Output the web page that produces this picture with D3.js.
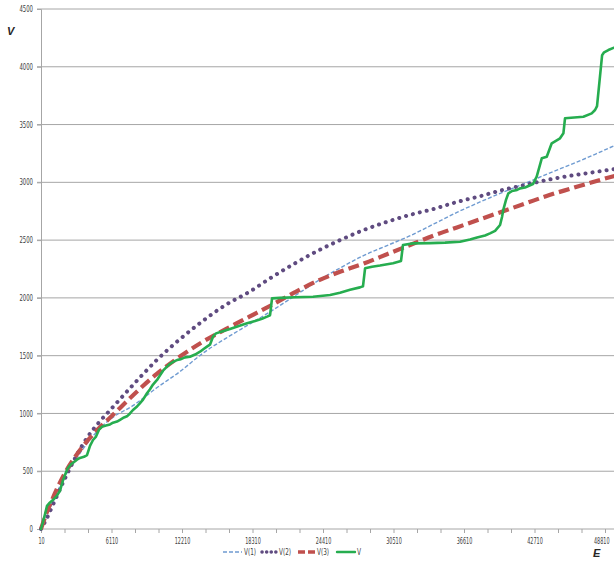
<!DOCTYPE html>
<html><head><meta charset="utf-8">
<script src="https://cdn.jsdelivr.net/npm/d3@7/dist/d3.min.js"></script>
<style>
html,body{margin:0;padding:0;background:#fff;}
svg{display:block;}
.tick text{font-family:"Liberation Sans Narrow","DejaVu Sans Condensed","Liberation Sans",sans-serif;}
</style></head>
<body>
<svg id="chart" width="614" height="565"></svg>
<script>
// ---- data ----
const xTickLabels = [10, 6110, 12210, 18310, 24410, 30510, 36610, 42710, 48810];
const yTickLabels = [0, 500, 1000, 1500, 2000, 2500, 3000, 3500, 4000, 4500];

const eGrid = [10, 500, 1000, 2000, 3000, 4000, 5000, 6000, 8000, 10000, 12000, 14000, 16000, 18000, 20000,
  22000, 24000, 26000, 28000, 30000, 32000, 34000, 36000, 38000, 40000, 42000, 44000, 46000, 48000, 50000];
const v1 = [0, 110, 230, 440, 600, 740, 860, 950, 1070, 1220, 1360, 1520, 1650, 1770, 1890,
  2020, 2150, 2265, 2370, 2455, 2540, 2640, 2740, 2830, 2915, 2995, 3080, 3160, 3245, 3335];
const v2 = [0, 90, 200, 420, 620, 790, 920, 1030, 1250, 1460, 1640, 1800, 1940, 2050, 2180,
  2300, 2410, 2505, 2590, 2660, 2720, 2770, 2830, 2880, 2935, 2980, 3025, 3060, 3090, 3120];
const v3 = [0, 140, 260, 470, 630, 760, 870, 965, 1160, 1340, 1490, 1620, 1730, 1835, 1940,
  2050, 2150, 2230, 2300, 2380, 2460, 2540, 2610, 2680, 2750, 2820, 2890, 2950, 3010, 3065];

const eV = [10, 180, 360, 530, 790, 1140, 1390, 1650, 1910, 2170, 2350, 2610, 2870, 3120, 3380, 3730, 3990,
  4250, 4510, 4770, 5030, 5290, 5630, 5980, 6240, 6590, 6850, 7190, 7450, 7710, 7970, 8320, 8580, 8840,
  9180, 9440, 9700, 10050, 10310, 10570, 10910, 11170, 11520, 11780, 12120, 12470, 12900, 13340, 13770,
  14110, 14370, 14630, 14890, 15150, 15670, 16360, 17060, 17840, 18530, 19130, 19570, 19830, 20000,
  20690, 21990, 23550, 25020, 25880, 26750, 27610, 27870, 28050, 28650, 29340, 30470, 31160, 31330,
  32200, 33670, 34970, 36270, 37130, 37740, 38430, 38860, 39300, 39730, 39900, 40010, 40250, 40450,
  40770, 41200, 41460, 41890, 42580, 42900, 43340, 43770, 44200, 44920, 45210, 45350, 46940, 47660,
  47950, 48120, 48560, 48730, 49100, 49590];
const vV = [0, 60, 130, 200, 230, 260, 290, 330, 420, 490, 530, 560, 580, 600, 615, 625, 640,
  720, 770, 800, 860, 885, 895, 905, 920, 930, 945, 965, 975, 1000, 1030, 1060, 1090, 1120,
  1175, 1210, 1250, 1290, 1330, 1370, 1405, 1430, 1450, 1462, 1470, 1485, 1491, 1510, 1534,
  1560, 1578, 1595, 1664, 1693, 1710, 1730, 1755, 1780, 1800, 1820, 1838, 1850, 1996,
  2000, 2005, 2010, 2025, 2045, 2070, 2091, 2100, 2256, 2270, 2280, 2300, 2320, 2458,
  2472, 2474, 2478, 2486, 2505, 2523, 2540, 2558, 2580, 2631, 2700, 2761, 2850, 2905,
  2925, 2934, 2948, 2955, 2985, 3049, 3208, 3222, 3338, 3381, 3424, 3554, 3568, 3597,
  3626, 3660, 4100, 4125, 4145, 4165];

const seriesNames = ["V(1)", "V(2)", "V(3)", "V"];

// ---- chart ----
const svg = d3.select("#chart");
const x = d3.scaleLinear().domain([10, 48810]).range([41, 605]);
const y = d3.scaleLinear().domain([0, 4500]).range([529, 9]);
const right = 614;

// gridlines
svg.append("g").selectAll("line").data(yTickLabels.filter(d => d > 0)).join("line")
  .attr("x1", 37).attr("x2", right).attr("y1", d => y(d)).attr("y2", d => y(d))
  .attr("stroke", "#a6a6a6").attr("stroke-width", 1);

// y axis
const yAxis = svg.append("g").attr("transform", "translate(41,0)")
  .call(d3.axisLeft(y).tickValues(yTickLabels).tickSize(4).tickPadding(4).tickFormat(d3.format("d")));
yAxis.select(".domain").attr("stroke", "#a6a6a6");
yAxis.selectAll(".tick line").attr("stroke", "#a6a6a6");
yAxis.selectAll(".tick text").attr("font-size", 8).attr("fill", "#404040")
  .attr("textLength", d => String(d).length * 3.4).attr("lengthAdjust", "spacingAndGlyphs");

// x axis
const minorTicks = d3.range(0, 25).map(i => 10 + i * 6100 / 3);
const xAxis = svg.append("g").attr("transform", "translate(0,529)")
  .call(d3.axisBottom(x).tickValues(minorTicks).tickSize(4).tickPadding(5)
    .tickFormat(d => { const r = xTickLabels.find(t => Math.abs(t - d) < 1); return r === undefined ? "" : r; }));
xAxis.select(".domain").attr("stroke", "#a6a6a6").attr("d", `M41,0H${right}`);
xAxis.selectAll(".tick line").attr("stroke", "#a6a6a6");
xAxis.selectAll(".tick text").attr("font-size", 8).attr("fill", "#404040")
  .each(function() {
    const sel = d3.select(this);
    const t = sel.text();
    if (t) {
      sel.attr("textLength", t.length * 3.1).attr("lengthAdjust", "spacingAndGlyphs");
      if (t === String(xTickLabels[xTickLabels.length - 1])) sel.attr("text-anchor", "end").attr("x", 4);
    }
  });

// lines
const smooth = (vals) => d3.line().x((d, i) => x(eGrid[i])).y(d => y(d)).curve(d3.curveMonotoneX)(vals);

const styles = [
  {stroke: "#6f9bd1", width: 1.4, dash: "4 2", cap: "butt"},
  {stroke: "#5f4b80", width: 4, dash: "0.1 7", cap: "round"},
  {stroke: "#c0504d", width: 4.2, dash: "11 5", cap: "butt"},
  {stroke: "#26ad4f", width: 2.6, dash: null, cap: "round"}
];

[v1, v2, v3].forEach((vals, i) => {
  svg.append("path").attr("d", smooth(vals)).attr("fill", "none")
    .attr("stroke", styles[i].stroke).attr("stroke-width", styles[i].width)
    .attr("stroke-dasharray", styles[i].dash).attr("stroke-linecap", styles[i].cap);
});
svg.append("path")
  .attr("d", d3.line().x((d, i) => x(eV[i])).y(d => y(d))(vV))
  .attr("fill", "none").attr("stroke", styles[3].stroke).attr("stroke-width", styles[3].width)
  .attr("stroke-linejoin", "round").attr("stroke-linecap", "round");

// axis titles
svg.append("text").attr("x", 7).attr("y", 35).text("V")
  .attr("font-family", "Liberation Sans, sans-serif").attr("font-size", 11)
  .attr("font-weight", "bold").attr("font-style", "italic").attr("fill", "#262626");
svg.append("text").attr("x", 593).attr("y", 557).text("E")
  .attr("font-family", "Liberation Sans, sans-serif").attr("font-size", 11)
  .attr("font-weight", "bold").attr("font-style", "italic").attr("fill", "#262626");

// legend
const legendX = [223, 262, 298, 337];
const legendW = [19, 15, 17, 18];
const legendTW = [12, 12, 12, 4];
const lg = svg.append("g");
seriesNames.forEach((name, i) => {
  const s = styles[i];
  lg.append("line").attr("x1", legendX[i]).attr("x2", legendX[i] + legendW[i])
    .attr("y1", 552).attr("y2", 552)
    .attr("stroke", s.stroke).attr("stroke-width", i === 0 ? 1.6 : (i === 3 ? 2.4 : 3.5))
    .attr("stroke-dasharray", i === 1 ? "0.1 4.5" : (i === 2 ? "7 3" : s.dash))
    .attr("stroke-linecap", s.cap);
  lg.append("text").attr("x", legendX[i] + legendW[i] + 2).attr("y", 555).text(name)
    .attr("font-family", "Liberation Sans Narrow, DejaVu Sans Condensed, sans-serif")
    .attr("font-size", 8).attr("fill", "#404040")
    .attr("textLength", legendTW[i]).attr("lengthAdjust", "spacingAndGlyphs");
});
</script>
</body></html>
